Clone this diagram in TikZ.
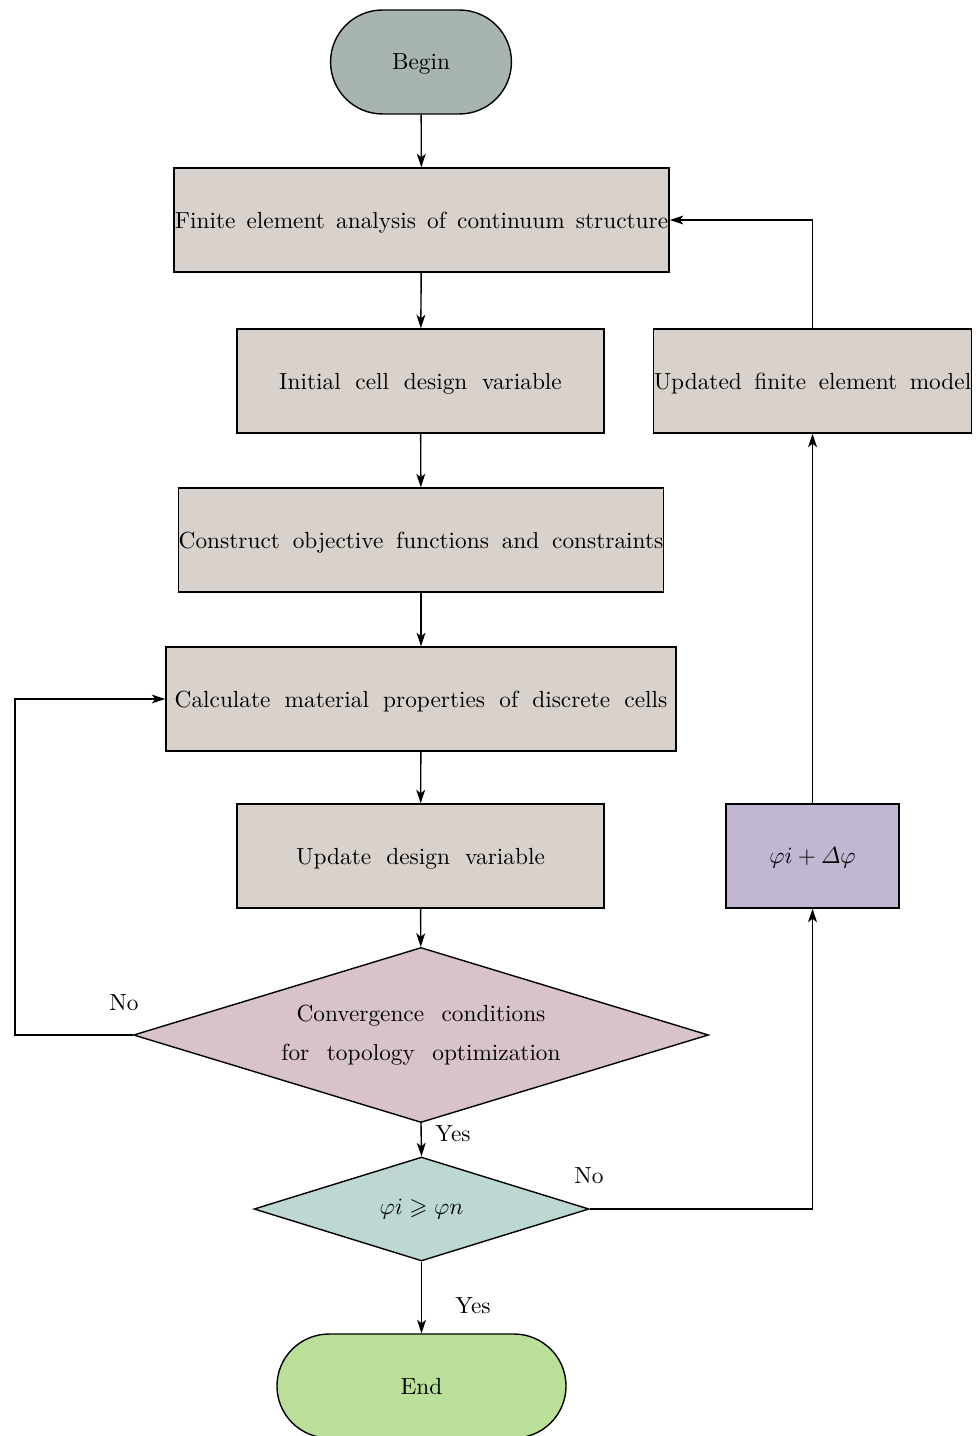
\documentclass[tikz,border=0pt]{standalone}
\usepackage{amsmath,amssymb}
\usetikzlibrary{arrows.meta,shapes.geometric}
\definecolor{cbegin}{HTML}{A8B5AE}
\definecolor{cbox}{HTML}{D9D2CC}
\definecolor{cdone}{HTML}{D8C3C9}
\definecolor{cdtwo}{HTML}{BDD7D3}
\definecolor{cphi}{HTML}{C1B7D2}
\definecolor{cend}{HTML}{BADF99}
\protected\def\mysp#1{\spaceskip=#1\relax}
\tikzset{
  base/.style={draw, line width=0.6pt, inner sep=0pt, font=\normalsize},
  wsp/.style={font={\normalsize\mysp{#1}}},
  stadium/.style={base, rectangle, rounded corners=22.3pt, minimum height=44.6pt, text depth=0pt},
  procbox/.style={base, rectangle, fill=cbox, minimum height=44.6pt, text depth=0pt},
  decision/.style={base, diamond, align=center},
  conn/.style={line width=0.6pt, -{Stealth[length=5.8pt,width=3.8pt,inset=1.5pt]}},
  lbl/.style={inner sep=0pt, font=\normalsize}
}
\begin{document}
\begin{tikzpicture}[x=0.429pt,y=-0.429pt]
\useasboundingbox (0,0) rectangle (979,1436);
\node[stadium, fill=cbegin, minimum width=77.6pt] (begin) at (421,62) {Begin};
\node[procbox, wsp=4.8pt, minimum width=212.4pt] (fea) at (421.5,220) {Finite element analysis of continuum structure};
\node[procbox, wsp=6.3pt, minimum width=157.4pt] (init) at (420.5,381) {Initial cell design variable};
\node[procbox, wsp=5.5pt, minimum width=207.6pt] (obj) at (421,540) {Construct objective functions and constraints};
\node[procbox, wsp=6.1pt, minimum width=218.8pt] (calc) at (421,699) {Calculate material properties of discrete cells};
\node[procbox, wsp=6.5pt, minimum width=157.4pt] (upd) at (420.5,856) {Update design variable};
\node[decision, wsp=7.5pt, shape aspect=3.28, fill=cdone, minimum width=246.7pt, minimum height=75.1pt] (conv) at (421,1035) {Convergence conditions\\[5pt]for topology optimization};
\node[decision, shape aspect=3.22, fill=cdtwo, minimum width=143.7pt, minimum height=44.6pt] (chk) at (421.5,1209) {$\varphi i\geqslant\varphi n$};
\node[stadium, fill=cend, minimum width=124pt] (end) at (421.5,1386) {End};
\node[procbox, wsp=5.4pt, minimum width=136pt] (model) at (812.5,381) {Updated finite element model};
\node[procbox, fill=cphi, minimum width=74.2pt] (phi) at (812.5,856) {$\varphi i+\varDelta\varphi$};
\coordinate (lc) at (15,1035);
\draw[conn] (begin) -- (fea);
\draw[conn] (fea) -- (init);
\draw[conn] (init) -- (obj);
\draw[conn] (obj) -- (calc);
\draw[conn] (calc) -- (upd);
\draw[conn] (upd) -- (conv);
\draw[conn] (conv.west) -- (lc) |- (calc.west);
\draw[conn] (conv.south) -- (chk.north);
\draw[conn] (chk.south) -- (end.north);
\draw[conn] (chk.east) -| (phi.south);
\draw[conn] (phi) -- (model);
\draw[conn] (model.north) |- (fea.east);
\node[lbl] (no1) at (124,1003) {No};
\node[lbl] (yes1) at (453,1134) {Yes};
\node[lbl] (no2) at (589,1176) {No};
\node[lbl] (yes2) at (473,1306) {Yes};
\end{tikzpicture}
\end{document}
